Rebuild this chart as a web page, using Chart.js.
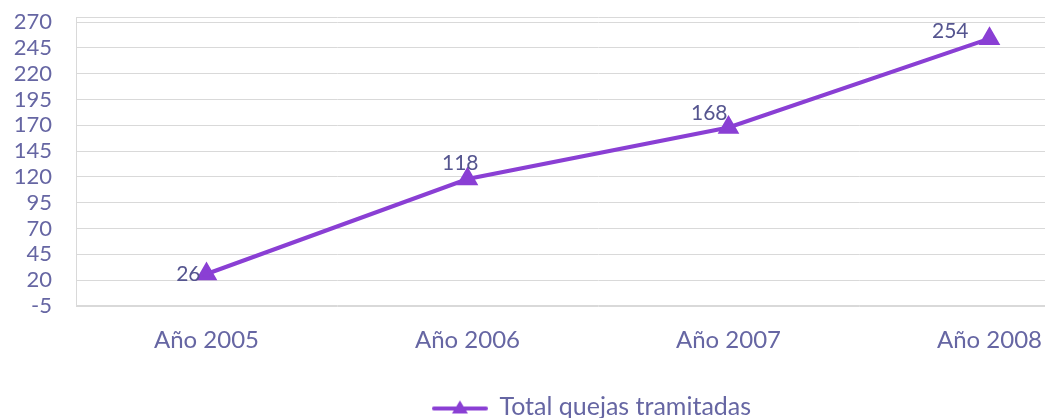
<!DOCTYPE html>
<html>
<head>
<meta charset="utf-8">
<script src="https://cdn.jsdelivr.net/npm/chart.js@4/dist/chart.umd.min.js"></script>
<style>
  html, body { margin: 0; padding: 0; background: #fff; overflow: hidden; }
  #wrap { width: 1045px; height: 418px; overflow: hidden; position: relative; }
  #box { width: 1184px; height: 418px; position: absolute; left: 0; top: 0; }
</style>
</head>
<body>
<div id="wrap"><div id="box"><canvas id="c"></canvas></div></div>
<script>
const categories = ['Año 2005', 'Año 2006', 'Año 2007', 'Año 2008'];
const seriesName = 'Total quejas tramitadas';
const seriesValues = [26, 118, 168, 254];
const yTickValues = [-5, 20, 45, 70, 95, 120, 145, 170, 195, 220, 245, 270];
// label placement relative to each point (style only)
const labelDx = [-6, 11, -1, -21];
const labelDy = [0, -16, -14, -7];

const PURPLE = '#8a3fd4';
const TICK = '#6666a3';
const LABEL = '#55558f';
const FONT = 'Lato, "Open Sans", sans-serif';

// legend symbol: line with triangle
const sym = document.createElement('canvas');
sym.width = 56; sym.height = 18;
(function () {
  const g = sym.getContext('2d');
  g.strokeStyle = PURPLE; g.lineWidth = 4; g.lineCap = 'round';
  g.beginPath(); g.moveTo(2, 11); g.lineTo(54, 11); g.stroke();
  g.fillStyle = PURPLE;
  g.beginPath(); g.moveTo(28, 3); g.lineTo(36, 16); g.lineTo(20, 16); g.closePath(); g.fill();
})();

const labelPlugin = {
  id: 'pointLabels',
  afterDatasetsDraw(chart) {
    const ctx = chart.ctx;
    const meta = chart.getDatasetMeta(0);
    ctx.save();
    ctx.font = '21px ' + FONT;
    ctx.fillStyle = LABEL;
    ctx.textAlign = 'right';
    ctx.textBaseline = 'middle';
    meta.data.forEach((pt, i) => {
      ctx.fillText(String(seriesValues[i]), pt.x + labelDx[i], pt.y + labelDy[i]);
    });
    ctx.restore();
  }
};

const borderPlugin = {
  id: 'areaBorder',
  beforeDatasetsDraw(chart) {
    const a = chart.chartArea, ctx = chart.ctx;
    ctx.save();
    ctx.strokeStyle = '#d9d9d9'; ctx.lineWidth = 1;
    ctx.beginPath();
    ctx.moveTo(a.left + 0.5, a.top + 0.5); ctx.lineTo(a.right, a.top + 0.5);
    ctx.moveTo(a.left + 0.5, a.bottom - 0.5); ctx.lineTo(a.right, a.bottom - 0.5);
    ctx.stroke();
    ctx.restore();
  }
};

new Chart(document.getElementById('c'), {
  type: 'line',
  data: {
    labels: categories,
    datasets: [{
      label: seriesName,
      data: seriesValues,
      yAxisID: 'y',
      borderColor: PURPLE,
      backgroundColor: PURPLE,
      borderWidth: 4,
      pointStyle: 'triangle',
      pointRadius: 8.5,
      pointHoverRadius: 8.5,
      pointBackgroundColor: PURPLE,
      pointBorderColor: PURPLE,
      tension: 0
    }]
  },
  options: {
    responsive: true,
    maintainAspectRatio: false,
    animation: false,
    layout: { padding: { top: 17, right: 0, left: 0, bottom: -11 } },
    plugins: {
      tooltip: { enabled: false },
      legend: {
        position: 'bottom',
        labels: {
          usePointStyle: true,
          pointStyleWidth: 54,
          color: TICK,
          font: { family: FONT, size: 25 },
          padding: 2,
          generateLabels(chart) {
            return [{
              text: seriesName,
              pointStyle: sym,
              fontColor: TICK,
              datasetIndex: 0,
              hidden: false,
              lineWidth: 0
            }];
          }
        }
      }
    },
    scales: {
      x: {
        offset: true,
        grid: { display: false, drawTicks: false },
        border: { display: false },
        ticks: { color: TICK, font: { family: FONT, size: 24 }, padding: 20, maxRotation: 0, autoSkip: false },
        afterFit(s) { s.height = 86; s.paddingLeft = 0; s.paddingRight = 0; }
      },
      y: {
        position: 'left',
        min: -5,
        max: 275,
        afterBuildTicks(s) { s.ticks = yTickValues.map(v => ({ value: v })); },
        grid: { color: '#d9d9d9', drawTicks: false },
        border: { display: true, color: '#d9d9d9' },
        ticks: { color: TICK, font: { family: FONT, size: 22 }, padding: 24, autoSkip: false },
        afterFit(s) { s.width = 76; s.paddingTop = 0; s.paddingBottom = 0; }
      },
      ySpace: {
        position: 'right',
        grid: { display: false, drawTicks: false },
        border: { display: false },
        ticks: { display: false },
        afterFit(s) { s.width = 64; s.paddingTop = 0; s.paddingBottom = 0; }
      }
    }
  },
  plugins: [labelPlugin, borderPlugin]
});
</script>
</body>
</html>
